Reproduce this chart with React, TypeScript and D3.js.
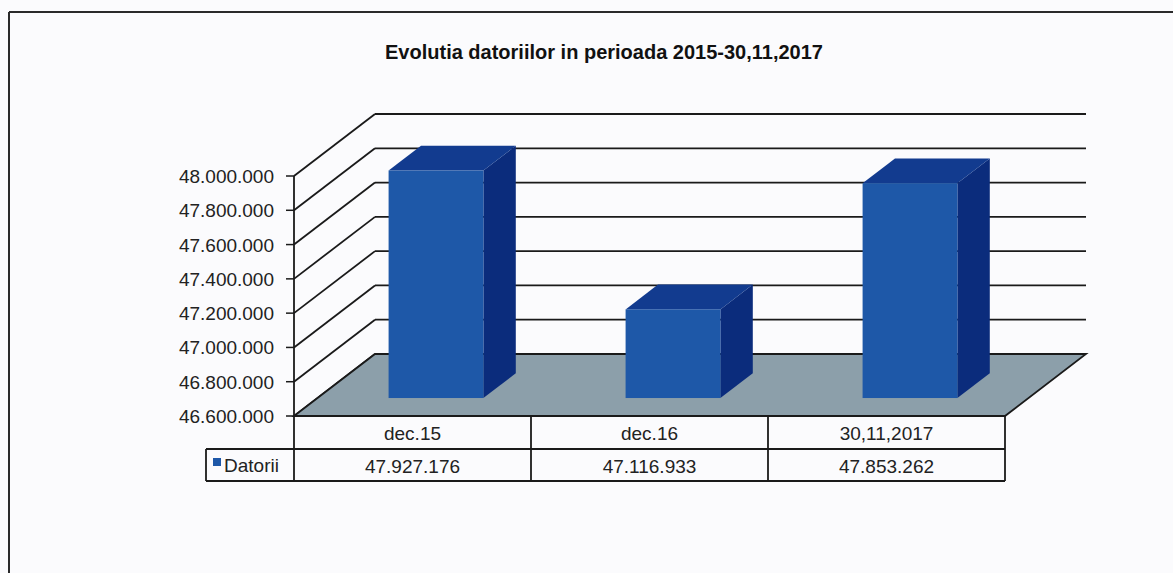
import React from 'react';
import * as d3 from 'd3';

const title = 'Evolutia datoriilor in perioada 2015-30,11,2017';
const seriesName = 'Datorii';
const categories = ['dec.15', 'dec.16', '30,11,2017'];
const values = [47927176, 47116933, 47853262];
const yTicks = [46600000, 46800000, 47000000, 47200000, 47400000, 47600000, 47800000, 48000000];

const W = 1173;
const H = 573;
const FONT = 'Liberation Sans, Arial, sans-serif';

// front plane of the 3D box + depth offset
const x0 = 294;
const x1 = 1005;
const yBottom = 416;
const yTop = 176;
const DX = 81;
const DY = -62;
// depth position of the bars (fraction of the box depth)
const F0 = 0.29;
const F1 = 0.69;

const rowH1 = 33;
const rowH2 = 32;

const colors = {
  front: '#1e58a8',
  top: '#123b8f',
  side: '#0b2c7c',
  floor: '#8c9faa',
  line: '#1a1a1a',
  text: '#222',
};

const locale = d3.formatLocale({ decimal: ',', thousands: '.', grouping: [3], currency: ['', ''] });
const fmt = locale.format(',d');

const pts = (arr: [number, number][]) => arr.map(p => p.join(',')).join(' ');

const App = () => {
  const y = d3.scaleLinear().domain([yTicks[0], yTicks[yTicks.length - 1]]).range([yBottom, yTop]);
  const x = d3.scaleBand().domain(categories).range([x0, x1]).paddingInner(0).paddingOuter(0);
  const bx = d3.scaleLinear().domain([0, 1]).range([0.3, 0.7]); // bar within band

  const yFloor = y(yTicks[0]);
  const tableTop = yFloor;
  const rowMid = tableTop + rowH1;
  const tableBottom = rowMid + rowH2;

  return (
    <div style={{ position: 'absolute', left: 0, top: 0 }}>
      <svg width={W} height={H} style={{ display: 'block', background: '#fbfbfd' }}>
        {/* outer frame */}
        <line x1={9} y1={12} x2={W} y2={12} stroke="#2a2a2a" strokeWidth={2} />
        <line x1={9} y1={12} x2={9} y2={H} stroke="#2a2a2a" strokeWidth={2} />

        <text x={604} y={59} textAnchor="middle" fontFamily={FONT} fontWeight="bold" fontSize={20} fill="#111">
          {title}
        </text>

        {/* back wall gridlines + side diagonals */}
        {yTicks.map(t => (
          <g key={t}>
            <line x1={x0 + DX} x2={x1 + DX} y1={y(t) + DY} y2={y(t) + DY} stroke={colors.line} strokeWidth={1.8} />
            <line x1={x0} x2={x0 + DX} y1={y(t)} y2={y(t) + DY} stroke={colors.line} strokeWidth={1.8} />
          </g>
        ))}

        {/* floor */}
        <polygon
          points={pts([[x0, yFloor], [x1, yFloor], [x1 + DX, yFloor + DY], [x0 + DX, yFloor + DY]])}
          fill={colors.floor}
          stroke={colors.line}
          strokeWidth={1.8}
        />

        {/* bars */}
        {categories.map((c, i) => {
          const bl = (x(c) as number) + bx(0) * x.bandwidth() + DX * F0;
          const br = (x(c) as number) + bx(1) * x.bandwidth() + DX * F0;
          const yb = yFloor + DY * F0;
          const yt = y(values[i]) + DY * F0;
          const ddx = DX * (F1 - F0);
          const ddy = DY * (F1 - F0);
          return (
            <g key={c}>
              <polygon points={pts([[br, yb], [br + ddx, yb + ddy], [br + ddx, yt + ddy], [br, yt]])} fill={colors.side} />
              <polygon points={pts([[bl, yt], [br, yt], [br + ddx, yt + ddy], [bl + ddx, yt + ddy]])} fill={colors.top} />
              <rect x={bl} y={yt} width={br - bl} height={yb - yt} fill={colors.front} />
            </g>
          );
        })}

        {/* y axis */}
        <line x1={x0} x2={x0} y1={yBottom} y2={yTop} stroke={colors.line} strokeWidth={1.8} />
        {yTicks.map(t => (
          <g key={'t' + t}>
            <line x1={x0 - 8} x2={x0} y1={y(t)} y2={y(t)} stroke={colors.line} strokeWidth={1.5} />
            <text x={x0 - 20} y={y(t) + 7} textAnchor="end" fontFamily={FONT} fontSize={19} fill={colors.text}>
              {fmt(t)}
            </text>
          </g>
        ))}

        {/* data table */}
        <g stroke={colors.line} strokeWidth={1.8} fill="none">
          <line x1={x0} x2={x1} y1={tableTop} y2={tableTop} />
          <line x1={206} x2={x1} y1={rowMid} y2={rowMid} />
          <line x1={206} x2={x1} y1={tableBottom} y2={tableBottom} />
          <line x1={206} x2={206} y1={rowMid} y2={tableBottom} />
          {[...categories.map(c => x(c) as number), x1].map(v => (
            <line key={v} x1={v} x2={v} y1={tableTop} y2={tableBottom} />
          ))}
        </g>
        {categories.map((c, i) => (
          <g key={'c' + c} fontFamily={FONT} fontSize={19} fill={colors.text} textAnchor="middle">
            <text x={(x(c) as number) + x.bandwidth() / 2} y={tableTop + 24}>{c}</text>
            <text x={(x(c) as number) + x.bandwidth() / 2} y={rowMid + 24}>{fmt(values[i])}</text>
          </g>
        ))}
        <rect x={213} y={rowMid + 9} width={8} height={8} fill={colors.front} />
        <text x={224} y={rowMid + 23} fontFamily={FONT} fontSize={19} fill={colors.text}>{seriesName}</text>
      </svg>
    </div>
  );
};

export default App;
